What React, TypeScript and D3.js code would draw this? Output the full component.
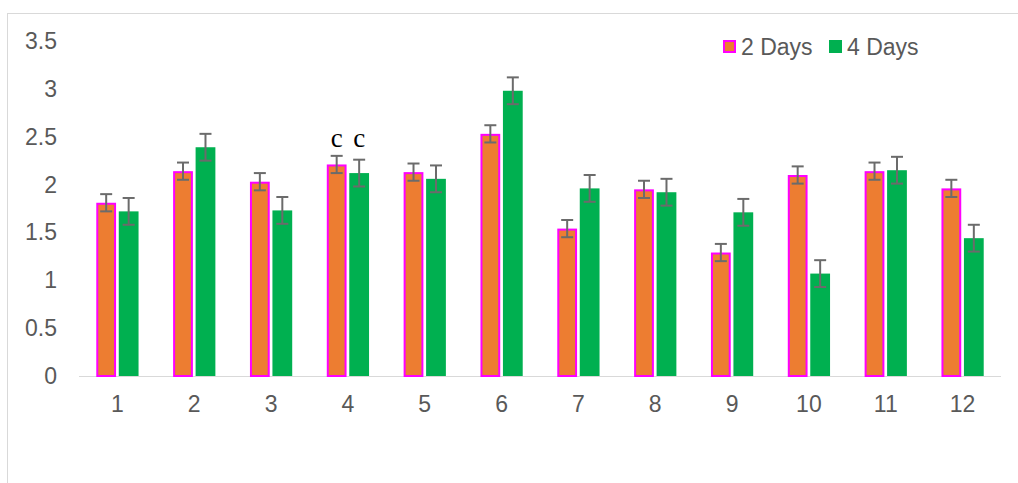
import React, { useEffect, useRef } from 'react';
import * as d3 from 'd3';

// chart data
const categories = ['1', '2', '3', '4', '5', '6', '7', '8', '9', '10', '11', '12'];
const seriesNames = ['2 Days', '4 Days'];
const days2 = [1.81, 2.14, 2.03, 2.21, 2.13, 2.53, 1.54, 1.95, 1.29, 2.10, 2.14, 1.96];
const days4 = [1.72, 2.39, 1.73, 2.12, 2.06, 2.98, 1.96, 1.92, 1.71, 1.07, 2.15, 1.44];
const err2 = [0.09, 0.09, 0.09, 0.09, 0.09, 0.09, 0.09, 0.09, 0.09, 0.09, 0.09, 0.09];
const err4 = [0.14, 0.14, 0.14, 0.14, 0.14, 0.14, 0.14, 0.14, 0.14, 0.14, 0.14, 0.14];
const yTicks = [0, 0.5, 1, 1.5, 2, 2.5, 3, 3.5];
const letterLabels = [{ cat: '4', series: 0, text: 'c' }, { cat: '4', series: 1, text: 'c' }];

const W = 1018;
const H = 483;
const margin = { top: 41, right: 17, bottom: 107, left: 79 };
const colors = ['#ED7D31', '#00B050'];

const App: React.FC = () => {
  const svgRef = useRef<SVGSVGElement | null>(null);

  useEffect(() => {
    if (!svgRef.current) return;
    const svg = d3.select(svgRef.current);
    svg.selectAll('*').remove();

    const font = 'Liberation Sans, Arial, sans-serif';

    // outer border
    svg.append('rect')
      .attr('x', 7.5).attr('y', 13.5)
      .attr('width', W + 20).attr('height', H + 20)
      .attr('fill', 'white').attr('stroke', '#d9d9d9').attr('stroke-width', 1);

    const x = d3.scaleBand<string>()
      .domain(categories)
      .range([margin.left, W - margin.right])
      .padding(0);

    const y = d3.scaleLinear()
      .domain([0, 3.5])
      .range([H - margin.bottom, margin.top]);

    const groupW = x.bandwidth() * 0.55;
    const inner = d3.scaleBand<number>()
      .domain([0, 1])
      .range([-groupW / 2, groupW / 2])
      .paddingInner(0.12);

    // y tick labels
    svg.append('g')
      .selectAll('text')
      .data(yTicks)
      .join('text')
      .attr('x', 57)
      .attr('y', d => y(d))
      .attr('dy', '0.35em')
      .attr('text-anchor', 'end')
      .attr('font-family', font)
      .attr('font-size', 23)
      .attr('fill', '#595959')
      .text(d => String(d));

    // baseline
    svg.append('line')
      .attr('x1', margin.left).attr('x2', W - margin.right)
      .attr('y1', y(0) + 0.5).attr('y2', y(0) + 0.5)
      .attr('stroke', '#d9d9d9').attr('stroke-width', 1);

    // x tick labels
    svg.append('g')
      .selectAll('text')
      .data(categories)
      .join('text')
      .attr('x', d => (x(d) as number) + x.bandwidth() / 2)
      .attr('y', y(0) + 28)
      .attr('dy', '0.35em')
      .attr('text-anchor', 'middle')
      .attr('font-family', font)
      .attr('font-size', 23)
      .attr('fill', '#595959')
      .text(d => d);

    const series = [
      { values: days2, errs: err2 },
      { values: days4, errs: err4 },
    ];

    series.forEach((s, si) => {
      const g = svg.append('g');
      g.selectAll('rect')
        .data(categories)
        .join('rect')
        .attr('x', d => (x(d) as number) + x.bandwidth() / 2 + (inner(si) as number) + (si === 0 ? 1 : 0))
        .attr('y', (d, i) => y(s.values[i]) + (si === 0 ? 1 : 0))
        .attr('width', inner.bandwidth() - (si === 0 ? 2 : 0))
        .attr('height', (d, i) => y(0) - y(s.values[i]) - (si === 0 ? 1 : 0))
        .attr('fill', colors[si])
        .attr('stroke', si === 0 ? '#FF00FF' : 'none')
        .attr('stroke-width', 2);

      // error bars
      const eg = svg.append('g').attr('stroke', '#6b6b6b').attr('stroke-width', 2);
      categories.forEach((c, i) => {
        const cx = (x(c) as number) + x.bandwidth() / 2 + (inner(si) as number) + inner.bandwidth() / 2;
        const top = y(s.values[i] + s.errs[i]);
        const bot = y(s.values[i] - s.errs[i]);
        eg.append('line').attr('x1', cx).attr('x2', cx).attr('y1', top).attr('y2', bot);
        eg.append('line').attr('x1', cx - 6).attr('x2', cx + 6).attr('y1', top).attr('y2', top);
        eg.append('line').attr('x1', cx - 6).attr('x2', cx + 6).attr('y1', bot).attr('y2', bot);
      });
    });

    // letter labels
    letterLabels.forEach(l => {
      const cx = (x(l.cat) as number) + x.bandwidth() / 2 + (inner(l.series) as number) + inner.bandwidth() / 2;
      svg.append('text')
        .attr('x', cx)
        .attr('y', 147)
        .attr('text-anchor', 'middle')
        .attr('font-family', '"Liberation Serif", "Times New Roman", serif')
        .attr('font-size', 27)
        .attr('fill', '#000')
        .text(l.text);
    });

    // legend
    const legend = svg.append('g').attr('transform', 'translate(723,40)');
    seriesNames.forEach((name, i) => {
      const lx = i === 0 ? 0 : 106;
      legend.append('rect')
        .attr('x', lx + (i === 0 ? 1 : 0)).attr('y', i === 0 ? 1 : 0)
        .attr('width', i === 0 ? 11 : 13).attr('height', i === 0 ? 11 : 13)
        .attr('fill', colors[i])
        .attr('stroke', i === 0 ? '#FF00FF' : 'none')
        .attr('stroke-width', 2);
      legend.append('text')
        .attr('x', lx + 18)
        .attr('y', 7)
        .attr('dy', '0.35em')
        .attr('font-family', font)
        .attr('font-size', 23)
        .attr('fill', '#595959')
        .text(name);
    });
  }, []);

  return (
    <div style={{ position: 'absolute', left: 0, top: 0 }}>
      <svg ref={svgRef} width={W} height={H} viewBox={`0 0 ${W} ${H}`} style={{ display: 'block' }} />
    </div>
  );
};

export default App;
